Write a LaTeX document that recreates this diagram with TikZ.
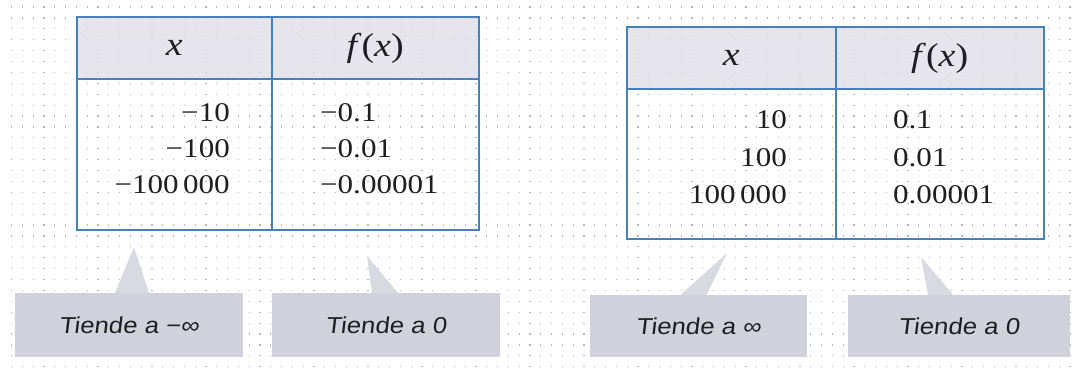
\documentclass[tikz,border=0pt]{standalone}
\usepackage{fontspec}
\setmainfont{Liberation Serif}
\newfontfamily\tabfont[FakeStretch=1.15]{Liberation Serif}
\newfontfamily\callfont[FakeStretch=1.12,FakeSlant=0.12]{Liberation Sans}
\definecolor{tblue}{RGB}{72,128,190}
\definecolor{hdrgray}{RGB}{222,222,230}
\definecolor{callgray}{RGB}{208,209,218}
\definecolor{dotgray}{RGB}{180,180,188}
\definecolor{inkgray}{RGB}{30,30,35}
\newcommand{\fofx}{\textit{f}\textup{(}\textit{x}\textup{)}}
\tikzset{
  dotrow/.style={dotgray, line width=1.2pt, dash pattern=on 1.2pt off 9.6pt},
  cellhdr/.style={draw=tblue, line width=0.8pt, fill=hdrgray, fill opacity=0.8, text opacity=1, inner sep=0pt, anchor=north west,
     font=\tabfont\fontsize{33}{38}\selectfont, text=inkgray},
  cellbody/.style={draw=tblue, line width=0.8pt, inner sep=0pt, anchor=north west},
  outerframe/.style={draw=tblue, line width=2pt},
  val/.style={inner sep=0pt, font=\tabfont\fontsize{27}{31}\selectfont, text=inkgray},
  callbox/.style={fill=callgray, inner sep=0pt, font=\callfont\fontsize{23}{27}\selectfont, text=inkgray},
  pointer/.style={fill=callgray!80}
}
\begin{document}
\begin{tikzpicture}[x=1pt,y=-1pt]
\useasboundingbox (0,0) rectangle (1077,370);
% dotted background
\foreach \k in {0,...,33} \draw[dotrow] (11,{7+10.9*\k}) -- (1077,{7+10.9*\k});

% ---- left table ----
\node[cellhdr, minimum width=194pt, minimum height=61pt] (lhx) at (77,17) {\textit{x}};
\node[cellhdr, minimum width=206pt, minimum height=61pt] (lhf) at (lhx.north east) {\fofx};
\node[cellbody, minimum width=194pt, minimum height=150pt] (lbx) at (lhx.south west) {};
\node[cellbody, minimum width=206pt, minimum height=150pt] (lbf) at (lhf.south west) {};
\draw[outerframe] (lhx.north west) rectangle (lbf.south east);
\draw[outerframe] (lhx.south west) -- (lhf.south east);
\node[val, anchor=east] (lx1) at (230,113) {−10};
\node[val, anchor=east] (lx2) at (230,149) {−100};
\node[val, anchor=east] (lx3) at (230,185) {−100\,000};
\node[val, anchor=west] (lf1) at (320,113) {−0.1};
\node[val, anchor=west] (lf2) at (320,149) {−0.01};
\node[val, anchor=west] (lf3) at (320,185) {−0.00001};

% ---- right table ----
\node[cellhdr, minimum width=208pt, minimum height=61pt] (rhx) at (627,27) {\textit{x}};
\node[cellhdr, minimum width=207pt, minimum height=61pt] (rhf) at (rhx.north east) {\fofx};
\node[cellbody, minimum width=208pt, minimum height=149pt] (rbx) at (rhx.south west) {};
\node[cellbody, minimum width=207pt, minimum height=149pt] (rbf) at (rhf.south west) {};
\draw[outerframe] (rhx.north west) rectangle (rbf.south east);
\draw[outerframe] (rhx.south west) -- (rhf.south east);
\node[val, anchor=east] (rx1) at (787,120) {10};
\node[val, anchor=east] (rx2) at (787,158) {100};
\node[val, anchor=east] (rx3) at (787,195) {100\,000};
\node[val, anchor=west] (rf1) at (893,120) {0.1};
\node[val, anchor=west] (rf2) at (893,158) {0.01};
\node[val, anchor=west] (rf3) at (893,195) {0.00001};

% ---- callouts ----
\node[callbox, minimum width=228pt, minimum height=64pt] (c1) at (129,325) {Tiende a −∞};
\node[callbox, minimum width=228pt, minimum height=64pt] (c2) at (386,325) {Tiende a 0};
\node[callbox, minimum width=217pt, minimum height=62pt] (c3) at (698.5,326) {Tiende a ∞};
\node[callbox, minimum width=222pt, minimum height=62pt] (c4) at (959,326) {Tiende a 0};

\coordinate (p1) at (134,247);
\coordinate (p2) at (367,256);
\coordinate (p3) at (727,253);
\coordinate (p4) at (921,257);
\fill[pointer] (p1) -- ([xshift=-14pt]c1.north) -- ([xshift=20pt]c1.north) -- cycle;
\fill[pointer] (p2) -- ([xshift=-14pt]c2.north) -- ([xshift=12pt]c2.north) -- cycle;
\fill[pointer] (p3) -- ([xshift=-18pt]c3.north) -- ([xshift=8pt]c3.north) -- cycle;
\fill[pointer] (p4) -- ([xshift=-31pt]c4.north) -- ([xshift=-6pt]c4.north) -- cycle;
\end{tikzpicture}
\end{document}
